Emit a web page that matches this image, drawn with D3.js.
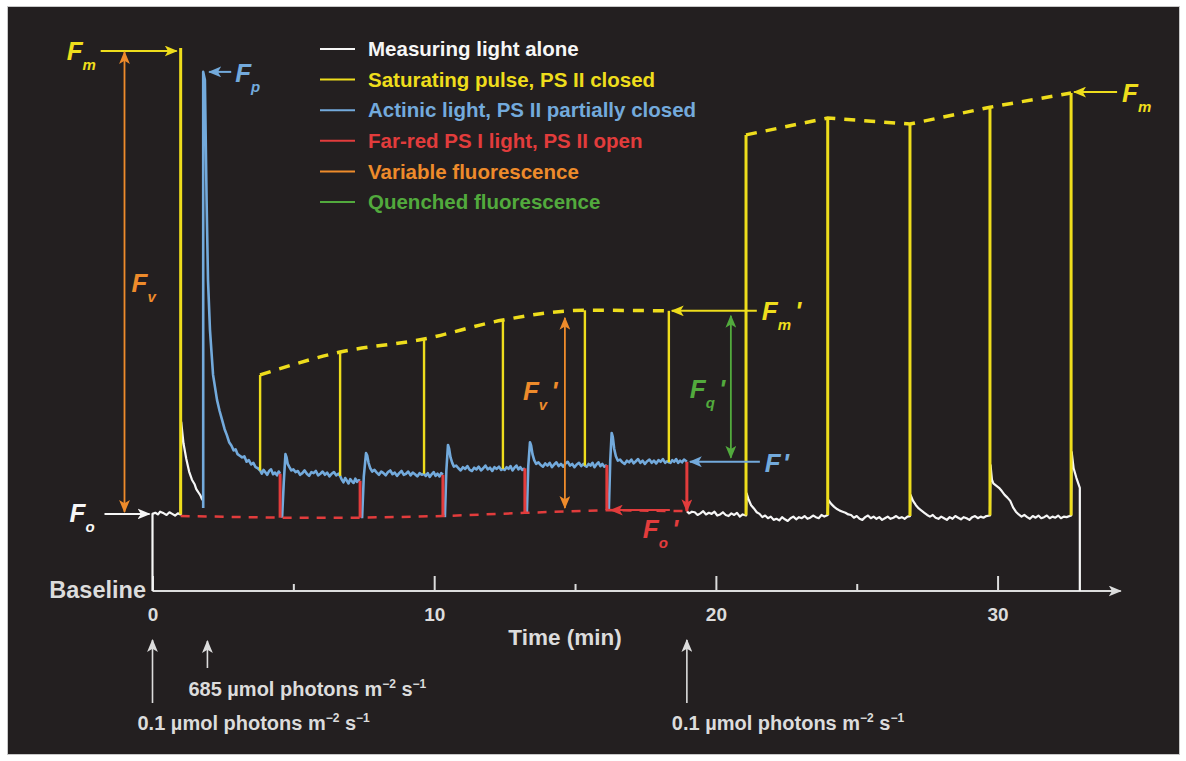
<!DOCTYPE html>
<html>
<head>
<meta charset="utf-8">
<script src="https://cdn.jsdelivr.net/npm/d3@7"></script>
<style>
  body { margin: 0; background: #fff; }
  text { font-family: "Liberation Sans", Arial, sans-serif; font-weight: bold; }
</style>
</head>
<body>
<svg id="chart" width="1186" height="761"></svg>
<script>
// ---- data (time in min, fluorescence in relative units, Fm = 1000) ----
var pulseTimes = [1.0, 3.82, 6.66, 9.64, 12.44, 15.35, 18.33, 21.07, 23.97, 26.89, 29.73, 32.61];
var pulseBases = [141, 222, 212, 216, 225, 231, 237, 139, 140, 138, 139, 139];
var pulseTops  = [1000, 398, 440, 464, 499, 517, 516, 840, 871, 860, 891, 917];

var farRedTimes = [4.53, 7.37, 10.31, 13.22, 16.13, 18.97];
var farRedTops  = [216, 203, 214, 226, 232, 238];

var foPrimeTimes  = [1.0, 4.53, 7.37, 10.31, 13.22, 16.13, 18.97];
var foPrimeValues = [138, 135, 135, 138, 144, 149, 147];

var lightTimes = [0, 1.95, 18.97];
var lightLabels = ['0.1', '685', '0.1'];

var xTicksMajor = [0, 10, 20, 30];
var xTicksMinor = [5, 15, 25];

var legendLabels = ['Measuring light alone', 'Saturating pulse, PS II closed',
  'Actinic light, PS II partially closed', 'Far-red PS I light, PS II open',
  'Variable fluorescence', 'Quenched fluorescence'];

// measuring light only, before actinic light
var whiteTrace = [[0,0],[0,142],[0.1,144],[0.2,141],[0.27,146],[0.4,143],[0.5,140],[0.6,145],[0.7,142],
  [0.8,139],[0.9,143],[1.0,141],[1.02,311],[1.1,272],[1.2,243],[1.3,220],[1.4,205],[1.5,196],
  [1.55,188],[1.6,184],[1.65,180],[1.7,176],[1.75,170],[1.8,166]];

// actinic light on (null = far-red break)
var blueTrace = [[1.8,153],[1.8,956],[1.86,941],[1.92,720],[1.97,573],[2.04,481],[2.15,398],[2.29,352],
  [2.38,332],[2.47,315],[2.56,298],[2.64,287],[2.72,274],[2.8,268],[2.88,259],[2.95,261],[3.02,252],
  [3.1,249],[3.18,246],[3.26,248],[3.34,238],[3.42,241],[3.5,233],[3.58,236],[3.66,228],[3.74,226],
  [3.82,222],[3.88,216],[3.94,223],[4.0,219],[4.07,214],[4.14,221],[4.21,224],[4.28,215],[4.35,218],
  [4.42,213],[4.48,220],[4.53,216],
  null,
  [4.6,135],[4.66,200],[4.72,252],[4.76,246],[4.8,234],[4.86,228],[4.93,222],[5.0,224],[5.08,219],
  [5.16,221],[5.24,214],[5.32,217],[5.4,222],[5.48,216],[5.56,212],[5.64,219],[5.72,217],[5.8,221],
  [5.88,213],[5.96,216],[6.04,220],[6.12,214],[6.2,218],[6.28,211],[6.36,216],[6.44,219],[6.52,213],
  [6.6,216],[6.66,212],[6.72,205],[6.78,200],[6.84,208],[6.9,203],[6.96,198],[7.02,206],[7.08,202],
  [7.14,199],[7.2,207],[7.26,201],[7.32,204],[7.37,203],
  null,
  [7.44,134],[7.5,210],[7.58,254],[7.62,250],[7.67,236],[7.73,226],[7.8,220],[7.88,223],[7.96,218],
  [8.04,214],[8.12,220],[8.2,217],[8.28,213],[8.36,219],[8.44,222],[8.52,215],[8.6,218],[8.68,212],
  [8.76,217],[8.84,221],[8.92,214],[9.0,216],[9.08,220],[9.16,213],[9.24,218],[9.32,215],[9.4,211],
  [9.48,217],[9.56,214],[9.64,216],[9.7,212],[9.77,217],[9.84,210],[9.91,215],[9.98,219],[10.05,212],
  [10.12,216],[10.19,211],[10.25,217],[10.31,214],
  null,
  [10.38,136],[10.43,220],[10.49,269],[10.53,262],[10.58,246],[10.64,236],[10.7,229],[10.78,231],
  [10.86,226],[10.94,222],[11.02,228],[11.1,225],[11.18,230],[11.26,223],[11.34,221],[11.42,227],
  [11.5,224],[11.58,229],[11.66,222],[11.74,226],[11.82,231],[11.9,224],[11.98,227],[12.06,221],
  [12.14,228],[12.22,225],[12.3,229],[12.38,223],[12.44,225],[12.5,223],[12.57,228],[12.64,225],
  [12.71,230],[12.78,222],[12.85,227],[12.92,231],[12.99,224],[13.06,228],[13.13,223],[13.22,226],
  null,
  [13.29,144],[13.34,230],[13.4,274],[13.44,268],[13.49,252],[13.55,241],[13.62,234],[13.7,237],
  [13.78,232],[13.86,229],[13.94,235],[14.02,231],[14.1,236],[14.18,228],[14.26,233],[14.34,237],
  [14.42,230],[14.5,234],[14.58,229],[14.66,235],[14.74,238],[14.82,231],[14.9,234],[14.98,228],
  [15.06,233],[15.14,236],[15.22,230],[15.3,234],[15.35,231],[15.41,229],[15.48,234],[15.55,231],
  [15.62,236],[15.69,228],[15.76,233],[15.83,237],[15.9,230],[15.97,234],[16.04,229],[16.13,232],
  null,
  [16.2,149],[16.25,240],[16.3,291],[16.34,284],[16.39,262],[16.45,248],[16.52,240],[16.6,242],
  [16.68,237],[16.76,234],[16.84,240],[16.92,237],[17.0,242],[17.08,235],[17.16,239],[17.24,243],
  [17.32,236],[17.4,240],[17.48,234],[17.56,239],[17.64,242],[17.72,236],[17.8,240],[17.88,235],
  [17.96,241],[18.04,238],[18.12,243],[18.2,236],[18.27,239],[18.33,237],[18.39,236],[18.45,241],
  [18.52,238],[18.59,243],[18.66,236],[18.73,240],[18.8,237],[18.87,242],[18.97,238]];

// measuring light only, dark relaxation with saturating pulses
var darkTrace = [[18.97,147],[19.05,143],[19.15,146],[19.25,145],[19.35,140],[19.45,143],[19.55,147],
  [19.65,141],[19.75,144],[19.85,142],[19.95,146],[20.05,139],[20.15,141],[20.25,145],[20.35,140],
  [20.45,138],[20.55,143],[20.65,140],[20.75,144],[20.85,137],[20.95,141],[21.07,139],
  [21.09,180],[21.15,170],[21.25,158],[21.35,152],[21.45,145],[21.55,142],[21.65,136],[21.75,139],
  [21.85,134],[21.95,137],[22.05,131],[22.15,133],[22.25,130],[22.35,136],[22.45,132],[22.55,129],
  [22.65,134],[22.75,137],[22.85,132],[22.95,136],[23.05,134],[23.15,138],[23.25,133],[23.35,135],
  [23.45,139],[23.55,136],[23.65,134],[23.75,140],[23.85,137],[23.97,140],
  [23.99,168],[24.1,160],[24.2,155],[24.3,151],[24.4,148],[24.5,146],[24.6,144],[24.7,141],[24.8,140],
  [24.9,135],[25.0,138],[25.1,133],[25.2,131],[25.3,136],[25.4,139],[25.5,134],[25.6,137],[25.7,133],
  [25.8,136],[25.9,131],[26.0,134],[26.1,137],[26.2,133],[26.3,135],[26.4,138],[26.5,134],[26.6,136],
  [26.7,133],[26.8,137],[26.89,138],
  [26.91,177],[27.0,166],[27.1,158],[27.2,152],[27.3,148],[27.4,144],[27.5,140],[27.6,137],[27.7,140],
  [27.8,135],[27.9,133],[28.0,137],[28.1,134],[28.2,131],[28.3,136],[28.4,133],[28.5,138],[28.6,135],
  [28.7,132],[28.8,136],[28.9,134],[29.0,131],[29.1,136],[29.2,138],[29.3,134],[29.4,137],[29.5,135],
  [29.6,138],[29.73,139],
  [29.75,232],[29.8,205],[29.85,198],[29.95,194],[30.05,190],[30.15,184],[30.25,177],[30.35,172],
  [30.45,166],[30.55,154],[30.65,146],[30.75,141],[30.85,137],[30.95,140],[31.05,136],[31.15,133],
  [31.25,138],[31.35,135],[31.45,139],[31.55,134],[31.65,136],[31.75,139],[31.85,134],[31.95,137],
  [32.05,135],[32.15,139],[32.25,134],[32.35,137],[32.45,136],[32.61,139],
  [32.63,256],[32.7,226],[32.8,208],[32.92,190],[32.92,0]];

// ---- drawing ----
var C = {
  white: '#f6f6f6', yellow: '#eedd1c', blue: '#73aadc', red: '#e23c3c',
  orange: '#ee8b2b', green: '#52aa3d', grey: '#dcdcdc', bg: '#231f20'
};
var legendColors = [C.white, C.yellow, C.blue, C.red, C.orange, C.green];

var svg = d3.select('#chart');
svg.append('rect').attr('x', 7.5).attr('y', 6.5).attr('width', 1172).attr('height', 748)
  .attr('fill', C.bg).attr('stroke', '#c8c8c8');

var x = d3.scaleLinear().domain([0, 34.3]).range([152.5, 1118.7]);
var y = d3.scaleLinear().domain([0, 1000]).range([591, 48]);

// arrow markers
var defs = svg.append('defs');
[['white', C.white], ['yellow', C.yellow], ['blue', C.blue], ['red', C.red],
 ['orange', C.orange], ['green', C.green], ['grey', C.grey]].forEach(function(m) {
  defs.append('marker').attr('id', 'ah-' + m[0])
    .attr('markerUnits', 'userSpaceOnUse')
    .attr('viewBox', '0 0 12 10').attr('markerWidth', 13).attr('markerHeight', 11)
    .attr('refX', 11).attr('refY', 5).attr('orient', 'auto-start-reverse')
    .append('path').attr('d', 'M0,0 L12,5 L0,10 L3,5 Z').attr('fill', m[1]);
});

function arrow(x1, y1, x2, y2, name, color, both, w) {
  var l = svg.append('line').attr('x1', x1).attr('y1', y1).attr('x2', x2).attr('y2', y2)
    .attr('stroke', color).attr('stroke-width', w || 2)
    .attr('marker-end', 'url(#ah-' + name + ')');
  if (both) l.attr('marker-start', 'url(#ah-' + name + ')');
  return l;
}

function fLabel(px, py, sub, prime, color) {
  var t = svg.append('text').attr('x', px).attr('y', py).attr('fill', color)
    .style('font-style', 'italic').style('font-size', '26px');
  t.append('tspan').text('F');
  if (sub) t.append('tspan').attr('dx', 0).attr('dy', 10).style('font-size', '15px').text(sub);
  if (prime) t.append('tspan').attr('dx', sub ? 4 : 2).attr('dy', sub ? -10 : 0).text("'");
}

var line = d3.line()
  .defined(function(d) { return d !== null; })
  .x(function(d) { return x(d[0]); })
  .y(function(d) { return y(d[1]); });

// axis
var axisG = svg.append('g').attr('transform', 'translate(0,' + y(0) + ')');
axisG.call(d3.axisBottom(x).tickValues(xTicksMajor).tickSize(-15).tickPadding(17)
  .tickFormat(d3.format('d')));
axisG.call(function(g) { g.select('.domain').remove(); });
var minorG = svg.append('g').attr('transform', 'translate(0,' + y(0) + ')');
minorG.call(d3.axisBottom(x).tickValues(xTicksMinor).tickSize(-7).tickFormat(''));
minorG.select('.domain').remove();
svg.selectAll('.tick line').attr('stroke', C.grey).attr('stroke-width', 2);
axisG.selectAll('.tick text').attr('fill', C.grey).style('font-size', '19px')
  .style('font-family', '"Liberation Sans", Arial, sans-serif').style('font-weight', 'bold');
arrow(x(0), y(0), x(34.3) + 2, y(0), 'grey', C.grey, false, 2);

svg.append('text').attr('x', 146).attr('y', 598).attr('text-anchor', 'end')
  .attr('fill', C.grey).style('font-size', '23.5px').text('Baseline');
svg.append('text').attr('x', 565).attr('y', 645).attr('text-anchor', 'middle')
  .attr('fill', C.grey).style('font-size', '22.5px').text('Time (min)');

// traces
svg.append('path').datum(whiteTrace).attr('d', line).attr('fill', 'none')
  .attr('stroke', C.white).attr('stroke-width', 2.2).attr('stroke-linejoin', 'round');
svg.append('path').datum(darkTrace).attr('d', line).attr('fill', 'none')
  .attr('stroke', C.white).attr('stroke-width', 2.2).attr('stroke-linejoin', 'round');
svg.append('path').datum(blueTrace).attr('d', line).attr('fill', 'none')
  .attr('stroke', C.blue).attr('stroke-width', 2.6).attr('stroke-linejoin', 'round');

// Fo' dashed line
var foPts = foPrimeTimes.map(function(t, i) { return [t, foPrimeValues[i]]; });
svg.append('path').datum(foPts).attr('d', line).attr('fill', 'none')
  .attr('stroke', C.red).attr('stroke-width', 2.5).attr('stroke-dasharray', '9,8');

// far-red drops
farRedTimes.forEach(function(t, i) {
  var l = svg.append('line').attr('x1', x(t)).attr('x2', x(t))
    .attr('y1', y(farRedTops[i])).attr('y2', y(foPrimeValues[i + 1]))
    .attr('stroke', C.red).attr('stroke-width', 3);
  if (i === farRedTimes.length - 1) l.attr('marker-end', 'url(#ah-red)');
});

// saturating pulses
pulseTimes.forEach(function(t, i) {
  svg.append('line').attr('x1', x(t)).attr('x2', x(t))
    .attr('y1', y(pulseBases[i])).attr('y2', y(pulseTops[i]))
    .attr('stroke', C.yellow).attr('stroke-width', i === 0 || i > 6 ? 3 : 2.4);
});

// Fm' and dark Fm dashed envelopes
var fmLight = pulseTimes.slice(1, 7).map(function(t, i) { return [t, pulseTops[i + 1]]; });
var fmDark = pulseTimes.slice(7).map(function(t, i) { return [t, pulseTops[i + 7]]; });
svg.append('path').datum(fmLight).attr('d', line.curve(d3.curveMonotoneX)).attr('fill', 'none')
  .attr('stroke', C.yellow).attr('stroke-width', 3.5).attr('stroke-dasharray', '11,9');
line.curve(d3.curveLinear);
svg.append('path').datum(fmDark).attr('d', line).attr('fill', 'none')
  .attr('stroke', C.yellow).attr('stroke-width', 3.5).attr('stroke-dasharray', '11,9');

// annotations
var t0 = pulseTimes[0], fm = pulseTops[0], fo = whiteTrace[1][1];
arrow(x(t0) - 80, y(fm) + 3, x(t0) - 4, y(fm) + 3, 'yellow', C.yellow);
fLabel(x(t0) - 114, y(fm) + 12, 'm', false, C.yellow);
arrow(x(0) - 28, y(fm) + 4, x(0) - 28, y(fo) - 2, 'orange', C.orange, true, 1.8);
fLabel(x(0) - 21, 292, 'v', false, C.orange);
arrow(x(0) - 48, y(fo), x(0) - 3, y(fo), 'white', C.white);
fLabel(x(0) - 83, y(fo) + 8, 'o', false, C.white);

var fpT = blueTrace[1][0], fp = blueTrace[1][1];
arrow(x(fpT) + 28, y(fp), x(fpT) + 6, y(fp), 'blue', C.blue);
fLabel(x(fpT) + 32, y(fp) + 10, 'p', false, C.blue);

var lastPulse = pulseTimes[6], lastFR = farRedTimes[5];
arrow(x(lastPulse) + 88, y(pulseTops[6]), x(lastPulse) + 3, y(pulseTops[6]), 'yellow', C.yellow);
fLabel(x(lastPulse) + 93, y(pulseTops[6]) + 9, 'm', true, C.yellow);
arrow(x(lastFR) + 73, y(farRedTops[5]), x(lastFR) + 3, y(farRedTops[5]), 'blue', C.blue);
fLabel(x(lastFR) + 78, y(farRedTops[5]) + 10, null, true, C.blue);
arrow(x(lastFR) + 44, y(pulseTops[6]) + 5, x(lastFR) + 44, y(farRedTops[5]) - 4, 'green', C.green, true, 1.8);
fLabel(x(lastFR) + 3, 398, 'q', true, C.green);
arrow(x(14.64), y(503), x(14.64), y(153), 'orange', C.orange, true, 1.8);
fLabel(x(14.64) - 42, 400, 'v', true, C.orange);
arrow(x(farRedTimes[4]) + 63, y(foPrimeValues[5]), x(farRedTimes[4]) + 4, y(foPrimeValues[5]), 'red', C.red);
fLabel(x(farRedTimes[4]) + 36, 538, 'o', true, C.red);

var endPulse = pulseTimes[11];
arrow(x(endPulse) + 46, y(pulseTops[11]) - 1, x(endPulse) + 3, y(pulseTops[11]) - 1, 'yellow', C.yellow);
fLabel(x(endPulse) + 51, y(pulseTops[11]) + 9, 'm', false, C.yellow);

// legend
legendLabels.forEach(function(lab, i) {
  var ly = 49 + i * 30.6;
  svg.append('line').attr('x1', 320).attr('x2', 355).attr('y1', ly).attr('y2', ly)
    .attr('stroke', legendColors[i]).attr('stroke-width', 2);
  svg.append('text').attr('x', 368).attr('y', ly).attr('dy', '0.35em')
    .attr('fill', legendColors[i]).style('font-size', '20.5px').text(lab);
});

// light intensity changes
var arrowTops = [640, 641, 640], arrowBottoms = [703, 668, 703], labelY = [730, 696, 730], labelDx = [-15, -19, -15];
lightTimes.forEach(function(t, i) {
  arrow(x(t), arrowBottoms[i], x(t), arrowTops[i], 'grey', C.grey, false, 1.6);
  var tx = svg.append('text').attr('x', x(t) + labelDx[i]).attr('y', labelY[i])
    .attr('fill', C.grey).style('font-size', '20px');
  tx.append('tspan').text(lightLabels[i] + ' \u00b5mol photons m');
  tx.append('tspan').attr('dy', -8).style('font-size', '12px').text('\u22122');
  tx.append('tspan').attr('dy', 8).text(' s');
  tx.append('tspan').attr('dy', -8).style('font-size', '12px').text('\u22121');
});
</script>
</body>
</html>
